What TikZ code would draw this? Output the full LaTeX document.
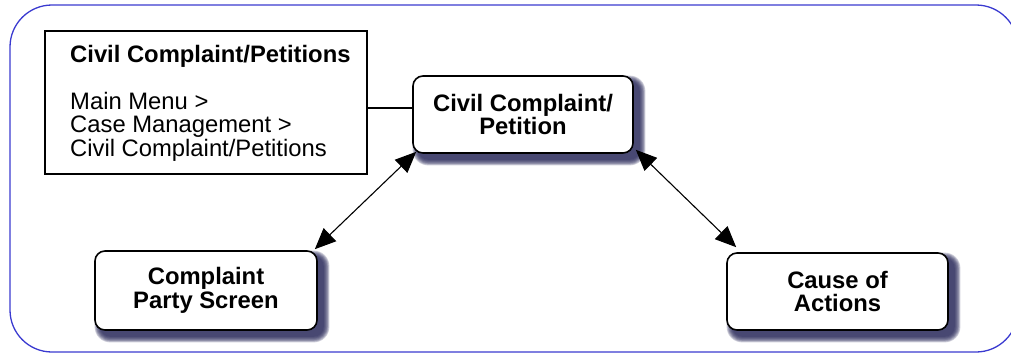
\documentclass[tikz,border=0pt]{standalone}
\usepackage{fontspec}
\setmainfont{Liberation Sans}
\usetikzlibrary{arrows.meta}

\definecolor{framecol}{RGB}{58,58,208}
\definecolor{shadecol}{RGB}{44,44,92}

\pgfdeclarelayer{background}
\pgfsetlayers{background,main}

\tikzset{
  txt/.style={font=\fontsize{23.8}{23.5}\selectfont, inner sep=0pt},
  screen/.style={draw=black, line width=1.6pt, fill=white, rounded corners=10pt,
    align=center, font=\fontsize{23.8}{23.5}\selectfont\bfseries},
  infobox/.style={draw=black, line width=1.4pt, fill=white, inner sep=0pt},
  link/.style={draw=black, line width=1.1pt},
  nav/.style={draw=black, line width=1.1pt, {Triangle[length=21pt,width=18pt]}-{Triangle[length=21pt,width=18pt]}},
  shadelayer/.style={fill=shadecol, opacity=0.22}
}

% soft drop shadow behind a node: stacked translucent rounded rectangles
\newcommand\softshade[1]{%
  \foreach \e in {0,1,...,7}{%
    \fill[shadelayer, rounded corners={10pt+0.8pt*\e}]
      ([xshift={6pt-0.8pt*\e}, yshift={-6pt+0.8pt*\e}]#1.north west)
      rectangle ([xshift={6pt+0.8pt*\e}, yshift={-6pt-0.8pt*\e}]#1.south east);
  }%
}

\begin{document}
\begin{tikzpicture}[x=1pt, y=-1pt]
  \useasboundingbox (0,0) rectangle (1011,354);

  % rounded outer frame (runs past the right edge)
  \draw[framecol, line width=1.3pt, rounded corners=42pt] (10,5) rectangle (1018,352);

  % breadcrumb box
  \node[infobox, minimum width=322pt, minimum height=143pt] (box) at (206,102.5) {};
  \node[txt, anchor=base west, font=\fontsize{23.8}{23.5}\selectfont\bfseries] (title) at (70,62) {Civil Complaint/Petitions};
  \node[txt, anchor=base west] (l1) at (70,109) {Main Menu >};
  \node[txt, anchor=base west] (l2) at (70,132.5) {Case Management >};
  \node[txt, anchor=base west] (l3) at (70,156) {Civil Complaint/Petitions};

  % screens
  \node[screen, minimum width=220pt, minimum height=77pt] (n1) at (523,114.5) {Civil Complaint/\\Petition};
  \node[screen, minimum width=222pt, minimum height=79pt] (n2) at (206,290.5) {Complaint\\Party Screen};
  \node[screen, minimum width=221pt, minimum height=77pt] (n3) at (837.5,291.5) {Cause of\\Actions};

  \begin{pgfonlayer}{background}
    \softshade{n1}
    \softshade{n2}
    \softshade{n3}
  \end{pgfonlayer}

  % connectors
  \draw[link] ([yshift=-5.5pt]box.east) -- ([yshift=-5.5pt]box.east -| n1.west);
  \draw[nav] ([xshift=4pt,yshift=2pt]n1.south west) -- ([xshift=-3pt,yshift=1pt]n2.north east);
  \draw[nav] ([xshift=2pt,yshift=4pt]n1.south east) -- ([xshift=10pt,yshift=5pt]n3.north west);
\end{tikzpicture}
\end{document}
